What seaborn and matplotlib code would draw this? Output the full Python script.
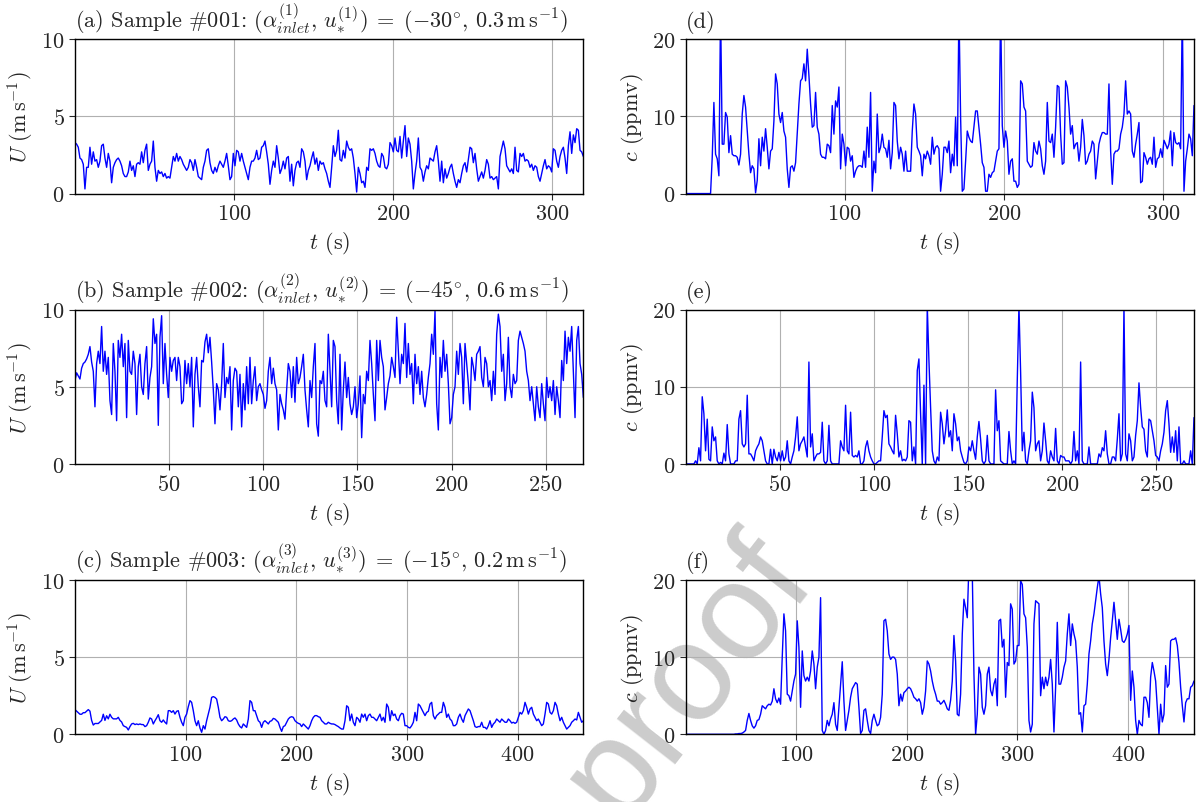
import numpy as np
import matplotlib
matplotlib.use("Agg")
import matplotlib.pyplot as plt
import seaborn as sns

t_end_a = 319.5   # samples #001
t_end_b = 270.0   # sample #002
t_end_c = 459.5   # sample #003

u_a = [3.3, 3.2, 3.0, 2.3, 2.2, 1.9, 0.3, 1.7, 1.7, 3.0, 1.9, 2.7, 2.1, 2.2, 1.7, 2.1, 3.1, 3.2, 2.3, 1.7,
       2.6, 2.1, 0.7, 1.7, 2.0, 2.2, 2.3, 2.1, 1.8, 1.3, 1.1, 1.1, 1.4, 2.1, 1.5, 1.8, 1.1, 1.9, 2.0, 1.9,
       2.7, 2.0, 2.8, 3.2, 1.5, 1.9, 2.1, 3.4, 1.7, 0.8, 1.5, 1.3, 1.4, 1.1, 1.3, 1.0, 1.1, 1.0, 1.7, 2.4,
       2.1, 2.6, 2.1, 2.4, 2.2, 1.9, 1.7, 1.5, 1.7, 2.2, 2.0, 1.5, 2.2, 1.7, 1.1, 1.0, 0.9, 1.7, 2.1, 2.8,
       2.9, 2.0, 1.5, 1.3, 1.7, 1.4, 1.8, 2.1, 1.9, 1.7, 2.1, 2.6, 1.8, 0.9, 1.1, 2.6, 1.8, 2.8, 2.7, 2.1,
       2.6, 2.1, 1.7, 1.3, 0.9, 1.7, 2.1, 2.1, 2.3, 2.8, 2.2, 2.3, 3.0, 3.1, 3.4, 2.7, 1.9, 0.6, 1.5, 2.1,
       1.7, 3.1, 2.3, 1.3, 1.6, 2.1, 1.6, 2.3, 2.4, 0.8, 1.9, 0.5, 1.5, 2.0, 2.1, 1.7, 2.9, 2.7, 2.1, 0.9,
       1.5, 1.8, 2.3, 2.7, 1.9, 2.3, 1.5, 2.1, 1.9, 2.0, 1.6, 1.3, 0.8,
       0.4, 1.7, 3.1, 2.4, 2.8, 4.1, 2.2, 2.1, 2.8, 2.3, 3.4, 3.0, 2.8, 2.9, 2.3, 1.3, 0.1, 1.7, 1.3, 0.7,
       0.8, 0.4, 1.7, 1.5, 2.9, 2.8, 2.9, 2.6, 2.1, 1.8, 1.7, 2.6, 2.4, 1.7, 1.6, 1.9, 3.3, 3.1, 2.7, 3.6,
       2.8, 2.7, 3.7, 2.3, 3.4, 4.4, 2.4, 3.6, 3.2, 2.1, 0.3, 1.3, 2.1, 3.6, 1.7, 1.5, 0.8, 1.4, 1.8, 1.6,
       2.3, 2.2, 2.1, 2.7, 3.1, 2.1, 0.8, 2.1, 0.7, 1.6, 1.0, 1.3, 1.7, 1.9, 1.3, 0.8, 0.4, 0.9, 0.7, 1.3,
       1.8, 2.0, 1.4, 2.2, 3.0, 2.9, 2.0, 2.6, 1.6, 0.8, 1.1, 1.4, 1.0, 1.5, 2.2, 1.9, 1.0, 1.1, 0.9, 1.0,
       1.1, 0.3, 2.4, 2.9, 3.4, 2.9, 1.8, 1.6, 1.4, 1.6, 1.3, 3.0, 1.5, 1.4, 2.6, 2.4, 2.6, 2.1, 2.2, 2.1,
       1.7, 1.9, 1.5, 1.8, 1.7, 1.1, 0.8, 1.3, 1.8, 2.2, 1.6, 1.8, 1.7, 1.4, 2.9, 2.8, 2.1, 1.7, 2.4, 2.8,
       3.0, 2.3, 1.3, 3.1, 4.0, 2.6, 3.8, 3.3, 4.2, 4.1, 2.8, 2.7, 2.4]

c_d = [0.0, 0.0, 0.0, 0.0, 0.0, 0.0, 0.0, 0.0, 0.0, 0.0, 0.0, 0.0, 0.0, 0.0, 0.0, 0.0,
       4.7, 11.8, 5.1, 4.5, 2.3, 24.0, 6.4, 6.4, 10.5, 9.9, 5.3, 7.5, 5.1, 4.9, 4.9, 4.7, 3.7, 5.1, 10.3,
       12.7, 11.2, 8.1, 5.1, 2.7, 3.6, 3.2, 0.1, 1.7, 7.1, 3.6, 7.3, 5.5, 8.4, 6.0, 3.2, 5.5, 5.8, 9.4,
       15.5, 14.2, 10.3, 9.2, 10.5, 8.1, 7.3, 3.2, 0.8, 3.4, 3.6, 2.9, 4.0, 7.7, 11.6, 14.6, 14.9, 16.8,
       14.6, 18.7, 15.3, 11.6, 8.6, 8.8, 13.1, 8.6, 7.7, 5.1, 4.7, 4.7, 4.5, 6.4, 6.2, 5.3, 11.4, 7.7,
       12.0, 11.2, 13.8, 3.2, 7.7, 6.4, 3.6, 6.0, 5.8, 4.2, 4.9, 2.1, 2.9, 3.4, 3.6, 3.6, 3.4, 5.5, 3.4,
       8.6, 4.7, 13.1, 0.3, 4.2, 2.7, 10.3, 5.3, 6.0, 7.7, 6.0, 5.8, 4.7, 6.9, 3.2, 5.3, 11.8, 11.4, 6.8,
       4.5, 6.0, 5.1, 2.9, 5.5, 2.9, 2.9, 2.9, 8.1, 11.6, 10.3, 6.0, 5.5, 4.9, 2.3, 5.1, 4.5, 5.5, 4.9,
       3.8, 7.3, 5.1, 6.0, 6.2, 5.8,
       0.3, 2.5, 6.0, 6.0, 5.3, 6.8, 2.7, 5.1, 3.6, 9.9, 3.6, 24.0, 9.9, 0.3, 0.6, 4.2, 8.1, 7.3, 6.8,
       6.6, 8.6, 10.7, 10.7, 8.6, 6.4, 4.0, 3.4, 0.3, 0.3, 2.5, 2.1, 2.7, 2.9, 4.2, 5.5, 5.8, 24.0, 8.8,
       6.0, 8.1, 6.8, 2.5, 4.2, 4.5, 1.6, 1.6, 0.8, 1.2, 14.6, 14.2, 11.2, 10.7, 4.2, 3.8, 3.4, 3.6, 6.6,
       5.5, 5.1, 6.8, 5.8, 3.6, 2.5, 4.2, 11.8, 6.8, 6.6, 7.7, 4.7, 8.6, 14.0, 13.8, 7.7, 3.8, 4.0, 14.6,
       13.8, 11.2, 7.7, 8.8, 5.8, 6.4, 6.6, 4.2, 6.0, 9.6, 7.5, 3.8, 4.2, 5.1, 5.5, 6.8, 6.4, 1.9, 4.2,
       6.4, 7.3, 7.9, 7.9, 7.7, 7.7, 14.2, 5.5, 1.2, 5.1, 5.5, 5.5, 5.8, 7.7, 8.6, 10.3, 14.6, 10.3, 10.7,
       10.3, 5.5, 4.7, 6.4, 7.7, 9.2, 1.4, 1.6, 5.3, 4.7, 3.8, 4.5, 4.7, 3.8, 7.3, 3.4, 4.5, 4.7, 5.8,
       4.7, 6.9, 6.4, 5.8, 6.4, 8.1, 3.6, 7.9, 6.6, 6.4, 6.6, 5.8, 24.0, 0.3, 4.2, 5.8, 7.7, 7.1, 4.9,
       11.4]

u_b = [5.4, 5.9, 5.7, 5.5, 6.2, 6.5, 6.6, 6.8, 7.1, 7.6, 6.6, 6.0, 3.7, 6.5, 7.3, 6.5, 8.9, 6.0, 7.3,
       5.8, 6.9, 4.1, 3.2, 7.8, 6.0, 2.8, 8.0, 6.9, 8.4, 6.3, 7.8, 3.0, 8.0, 6.0, 5.8, 7.3, 6.5, 3.2,
       6.3, 7.1, 5.0, 4.5, 6.5, 7.6, 4.2, 5.6, 6.3, 9.4, 7.8, 8.4, 2.5, 8.2, 9.6, 5.2, 7.8, 5.8, 4.3,
       6.9, 6.0, 6.7, 6.9, 5.4, 6.9, 6.3, 3.9, 4.1, 6.7, 5.2, 6.5, 5.0, 6.9, 2.4, 5.8, 6.9, 5.0, 3.7,
       6.7, 6.6, 7.9, 8.4, 7.2, 8.2, 6.6, 4.8, 2.6, 5.2, 4.8, 3.5, 5.2, 7.8, 4.3, 5.6, 5.2, 6.3, 2.2,
       5.4, 6.2, 6.0, 3.7, 5.8, 2.4, 5.2, 3.5, 6.3, 3.9, 6.9, 3.9, 5.4, 6.3, 4.1, 5.0, 5.2, 4.8, 4.5,
       3.6, 4.1, 6.0, 6.9, 5.2, 6.2, 5.2, 4.8, 2.2, 4.5, 3.9, 3.5, 2.9, 4.8, 6.5, 6.0, 4.3, 6.3, 4.0,
       6.9, 5.2, 5.6, 6.3, 7.1, 4.8, 3.5, 2.4, 5.4, 4.3, 6.3, 7.8, 2.6, 1.8, 5.4, 5.2, 6.0, 4.1, 3.7,
       8.4,
       6.0, 3.7, 8.0, 7.6, 4.1, 2.6, 7.1, 2.2, 4.8, 6.6, 4.3, 5.6, 3.9, 3.2, 3.7, 5.0, 3.0, 3.9, 5.7,
       1.7, 4.5, 3.9, 6.0, 5.4, 8.0, 6.5, 4.5, 2.8, 8.0, 5.4, 8.0, 6.9, 6.3, 3.5, 4.3, 5.2, 5.7, 6.9,
       6.3, 5.6, 9.5, 7.3, 5.2, 7.1, 6.5, 9.1, 5.6, 7.8, 5.8, 6.5, 3.9, 7.1, 5.2, 6.3, 4.5, 6.0, 4.3,
       3.7, 4.5, 5.6, 6.5, 8.4, 7.1, 9.9, 3.9, 2.2, 6.9, 5.6, 8.0, 6.0, 7.1, 5.2, 2.6, 3.0, 4.5, 5.0,
       7.3, 5.8, 7.8, 6.9, 3.9, 7.8, 6.5, 5.2, 3.5, 6.9, 6.3, 5.4, 7.1, 7.3, 7.6, 5.6, 5.0, 6.9, 6.5,
       5.0, 5.4, 4.1, 6.0, 4.5, 8.4, 9.7, 8.9, 6.0, 7.1, 4.1, 5.2, 8.2, 5.0, 4.3, 5.8, 5.2, 5.4, 8.0,
       8.6, 8.2, 7.8, 7.3, 6.0, 5.4, 4.1, 5.0, 3.9, 2.8, 5.0, 3.7, 3.0, 5.2, 3.9, 2.8, 5.6, 4.3, 5.0,
       4.1, 5.4, 3.2, 5.0, 4.1, 3.0, 6.7, 5.4, 8.6, 6.5, 8.2, 7.3, 8.9, 6.0, 3.0, 8.0, 8.9, 6.5, 5.8,
       4.3]

c_e = [0.0, 0.0, 0.0, 0.0, 0.0, 0.0, 0.4, 0.0, 2.1, 0.4, 8.7, 6.5, 1.7, 5.8, 0.6, 0.4, 4.8, 3.0, 3.5,
       0.4, 0.0, 0.2, 0.0, 1.4, 0.4, 5.1, 1.3, 0.0, 0.0, 0.0, 0.4, 0.4, 5.8, 6.9, 2.6, 2.2, 2.6, 8.9,
       1.3, 1.3, 0.9, 0.4, 1.7, 2.2, 2.6, 3.5, 3.0, 1.7, 0.4, 0.0, 0.0, 1.9, 0.0, 1.9, 0.9, 0.4, 1.5,
       0.4, 1.7, 0.4, 0.9, 3.0, 0.4, 0.0, 0.9, 1.7, 3.5, 6.1, 1.7, 2.6, 3.0, 3.5, 2.2, 0.9, 13.2, 2.2,
       3.9, 0.4, 0.9, 1.3, 1.3, 1.5, 5.4, 0.4, 0.0, 0.4, 5.0, 0.4, 0.0, 0.0, 0.0, 0.0, 0.0, 3.0, 2.2,
       1.7, 7.6, 1.7, 1.3, 6.7, 1.1, 0.9, 1.1, 0.9, 1.7, 0.0, 0.0, 0.4, 2.2, 3.0, 1.7, 0.9, 0.4, 0.0,
       0.0, 0.2, 0.4, 0.4, 3.5, 6.9, 6.0, 6.3, 2.6, 2.2, 1.7, 1.3, 6.3, 3.9, 0.9, 1.7, 0.4, 0.6, 0.4,
       0.9, 5.6, 5.4, 0.4, 2.2, 0.0, 12.1, 13.6, 6.5, 0.0, 10.2, 0.0, 20.5, 13.4, 7.3, 1.7, 0.4, 0.0,
       0.9, 0.4,
       6.7, 5.2, 2.6, 4.3, 7.0, 3.5, 4.3, 1.7, 6.5, 5.2, 3.0, 3.5, 1.7, 0.9, 0.2, 0.0, 0.4, 2.2, 1.7,
       3.0, 1.7, 0.6, 3.5, 5.5, 3.2, 0.4, 0.0, 0.4, 3.7, 0.4, 0.0, 0.0, 0.0, 9.6, 4.3, 5.6, 0.4, 0.2,
       0.0, 0.0, 0.0, 4.2, 1.7, 0.0, 0.4, 0.0, 10.9, 20.5, 11.9, 1.7, 4.1, 0.4, 0.0, 1.7, 3.0, 9.3,
       7.3, 1.7, 2.6, 3.0, 0.4, 1.7, 5.3, 3.0, 0.4, 0.0, 1.7, 0.9, 0.4, 4.6, 0.4, 0.0, 1.1, 0.9, 0.9,
       0.4, 0.4, 0.4, 0.0, 0.4, 4.2, 0.4, 1.7, 0.0, 13.2, 0.4, 0.0, 0.0, 0.0, 2.2, 0.0, 0.0, 0.0, 0.0,
       0.0, 1.3, 0.9, 2.1, 1.7, 4.3, 1.3, 0.0, 0.0, 0.9, 0.9, 0.4, 3.2, 6.5, 0.4, 1.3, 20.5, 1.3, 0.4,
       3.9, 3.0, 0.4, 0.9, 3.7, 5.6, 10.5, 7.3, 4.8, 4.5, 1.7, 0.9, 5.8, 5.6, 4.3, 3.0, 1.1, 0.9, 0.4,
       1.7, 2.6, 4.1, 6.9, 8.2, 5.2, 1.5, 3.5, 1.5, 4.3, 0.4, 4.8, 0.0, 0.0, 0.4, 0.0, 0.0, 0.0, 1.7,
       0.0, 6.0]

u_c = [1.6, 1.5, 1.4, 1.3, 1.3, 1.4, 1.4, 1.5, 1.6, 1.5, 0.9, 0.6, 0.7, 0.7, 0.7, 0.8, 0.9, 1.3, 0.9,
       1.2, 1.0, 1.3, 1.1, 1.0, 1.0, 1.0, 1.1, 0.9, 0.8, 0.56, 0.5, 0.45, 0.28, 0.5, 0.67, 0.71, 0.63,
       0.67, 0.63, 0.67, 0.63, 0.63, 0.5, 0.56, 0.78, 1.06, 0.99, 0.67, 0.88, 1.06, 1.27, 0.88, 0.78,
       0.93, 0.78, 0.67, 1.53, 1.53, 1.42, 1.53, 1.31, 1.49, 1.53, 1.1, 0.78, 0.56, 1.1, 1.31, 1.79,
       2.18, 2.07, 1.53, 0.88, 0.56, 0.88, 0.41, 0.13, 0.56, 0.34, 0.88, 1.31, 1.75, 2.39, 2.44, 2.39,
       2.28, 1.75, 1.1, 0.88, 0.99, 1.14, 1.1, 0.88, 0.84, 0.88, 0.99, 1.06, 0.93, 0.67, 0.5, 0.41,
       0.67, 0.56, 0.45, 0.99, 2.18, 2.07, 1.53, 1.53, 1.21, 0.88, 0.78, 0.45, 0.78, 0.88, 0.78, 0.67,
       0.84, 0.88, 1.03, 0.99, 0.88, 0.78, 0.45, 0.19, 0.5, 0.56, 0.78, 0.99, 1.1, 1.14, 1.1, 0.88,
       0.78, 0.71, 0.67, 0.5, 0.67, 0.56, 0.45, 0.34, 0.56, 0.88, 1.1, 1.21, 1.21, 1.14, 1.1, 0.88,
       0.78, 0.67, 0.67, 0.78,
       0.71, 0.67, 0.67, 0.63, 0.56, 0.5, 0.41, 0.34, 0.34, 0.88, 1.85, 1.75, 0.88, 1.31, 0.78, 0.56,
       1.1, 0.99, 0.78, 1.31, 1.1, 1.31, 0.88, 1.21, 1.31, 1.1, 1.1, 0.99, 0.88, 1.1, 1.31, 0.88, 1.1,
       0.78, 1.96, 1.75, 0.88, 1.53, 1.21, 1.31, 0.99, 0.88, 1.21, 1.36, 1.31, 0.56, 0.56, 0.45, 0.41,
       0.56, 0.78, 1.42, 0.88, 1.96, 1.85, 1.64, 1.42, 1.21, 1.42, 1.49, 1.96, 2.07, 1.21, 0.99, 1.21,
       1.31, 1.42, 1.42, 2.07, 1.75, 1.1, 1.31, 0.99, 0.88, 0.56, 0.56, 0.67, 1.1, 1.31, 0.99, 0.78,
       1.21, 1.42, 1.64, 1.53, 1.21, 0.88, 0.5, 0.45, 0.5, 0.5, 0.78, 0.45, 0.45, 0.34, 0.56, 0.88,
       0.45, 0.67, 0.78, 0.99, 0.88, 0.78, 0.99, 0.88, 0.78, 0.78, 0.99, 0.88, 0.73, 0.78, 0.71, 0.78,
       1.1, 1.42, 1.31, 1.53, 2.07, 1.75, 1.31, 1.64, 1.75, 1.31, 1.1, 0.88, 0.99, 0.78, 0.56, 0.67,
       1.31, 2.07, 1.96, 1.42, 1.31, 1.53, 2.07, 1.85, 1.31, 0.88, 1.1, 0.78, 0.56, 0.34, 0.45, 0.56,
       0.78, 0.88, 0.99, 0.93, 1.42, 1.1, 0.78, 0.88]

c_f = [0.0, 0.0, 0.0, 0.0, 0.0, 0.0, 0.0, 0.0, 0.0, 0.0, 0.0, 0.0, 0.0, 0.0, 0.0, 0.0, 0.0, 0.0, 0.0,
       0.0, 0.0, 0.0, 0.0, 0.0, 0.0, 0.0, 0.0, 0.0, 0.0, 0.0, 0.05, 0.05, 0.1, 0.1, 0.15, 0.3, 0.5,
       1.8, 2.7, 1.8, 1.1, 0.8, 1.1, 1.8, 1.9, 2.6, 3.7, 3.5, 3.3, 3.7, 3.9, 3.8, 4.3, 5.9, 4.6, 4.1,
       4.7, 3.9, 10.0, 15.6, 13.4, 5.2, 5.0, 4.3, 5.6, 6.9, 7.8, 14.7, 11.3, 3.5, 10.8, 7.6, 6.9, 7.4,
       6.9, 8.2, 10.8, 9.1, 5.9, 8.7, 10.0, 17.7, 0.5, 0.0, 0.5, 1.8, 1.1, 2.0, 2.6, 4.1, 1.3, 0.5,
       3.5, 6.5, 9.4, 4.3, 0.5, 1.8, 3.1, 4.8, 5.9, 6.3, 6.7, 6.5, 3.5, 0.1, 0.5, 3.1, 3.3, 1.8, 0.5,
       0.1, 1.8, 2.6, 1.8, 1.1, 1.3, 2.2, 5.2, 14.7, 14.9, 13.4, 10.4, 9.7, 10.0, 10.0, 9.7, 7.8, 3.7,
       5.2, 4.3, 5.4, 5.6, 5.9, 6.1, 5.9, 5.4, 4.8, 4.6, 4.3, 4.6, 4.1, 2.6, 3.5, 5.6, 9.5, 9.1, 8.2,
       6.9, 5.9, 5.2, 4.3, 4.3,
       3.9, 4.1, 4.4, 3.9, 3.3, 3.1, 4.4, 6.9, 12.8, 9.5, 2.6, 2.4, 5.2, 13.0, 17.5, 16.4, 15.1, 22.0,
       23.0, 21.0, 7.8, 0.0, 2.6, 8.7, 7.8, 3.5, 2.6, 3.7, 7.8, 8.7, 5.7, 5.0, 6.5, 7.2, 3.7, 14.7,
       14.9, 11.3, 12.3, 4.8, 9.3, 8.9, 16.9, 16.2, 9.1, 9.5, 11.5, 11.5, 19.9, 19.4, 15.6, 15.1, 11.3,
       1.8, 0.3, 1.3, 14.3, 17.3, 17.1, 16.9, 5.0, 7.4, 5.9, 7.4, 6.3, 7.4, 9.7, 6.5, 0.3, 6.1, 14.5,
       6.5, 6.5, 7.4, 8.7, 9.5, 13.0, 15.6, 11.5, 14.3, 13.0, 12.1, 8.7, 2.6, 2.8, 0.3, 3.7, 3.9, 6.5,
       10.4, 12.1, 14.3, 15.6, 17.3, 19.0, 20.5, 18.2, 16.4, 12.1, 9.1, 7.6, 9.7, 12.5, 14.7, 17.1,
       14.7, 12.3, 14.9, 13.6, 12.1, 11.9, 12.3, 13.0, 14.1, 4.4, 8.2, 6.1, 1.8, 0.0, 1.8, 1.3, 1.1,
       4.8, 4.8, 4.1, 2.2, 7.4, 9.3, 8.2, 6.9, 3.5, 0.0, 3.9, 1.6, 2.6, 8.9, 6.1, 6.5, 12.1, 12.3, 12.3,
       12.5, 11.5, 9.3, 6.1, 3.7, 1.6, 4.1, 4.6, 4.6, 6.1, 6.3, 6.9]

titles = [
    r"(a) Sample #001: $(\alpha^{(1)}_{inlet},\, u^{(1)}_{*})\; =\; (-30^{\circ},\, 0.3\,\mathrm{m\,s^{-1}})$",
    r"(d)",
    r"(b) Sample #002: $(\alpha^{(2)}_{inlet},\, u^{(2)}_{*})\; =\; (-45^{\circ},\, 0.6\,\mathrm{m\,s^{-1}})$",
    r"(e)",
    r"(c) Sample #003: $(\alpha^{(3)}_{inlet},\, u^{(3)}_{*})\; =\; (-15^{\circ},\, 0.2\,\mathrm{m\,s^{-1}})$",
    r"(f)",
]
x_ticks_a = [100, 200, 300]
x_ticks_b = [50, 100, 150, 200, 250]
x_ticks_c = [100, 200, 300, 400]

# ---- style ----
sns.set_style("ticks", {"axes.grid": True, "grid.color": "#b0b0b0",
                        "axes.edgecolor": "black", "xtick.direction": "out",
                        "ytick.direction": "out"})
plt.rcParams["font.family"] = "serif"
plt.rcParams["font.serif"] = ["cmr10"]
plt.rcParams["mathtext.fontset"] = "cm"
plt.rcParams["axes.formatter.use_mathtext"] = True
plt.rcParams["axes.unicode_minus"] = False
fs = 16

fig, axes = plt.subplots(3, 2, figsize=(12.03, 8.03), dpi=100)
fig.subplots_adjust(left=0.0623, right=0.9925, bottom=0.0843, top=0.950,
                    wspace=0.201, hspace=0.751)

# journal watermark, kept behind the axes
fig.text(0.572, 0.155, "proof", fontsize=100, color="#cccccc",
         family="Liberation Sans", rotation=52, ha="center", va="center",
         rotation_mode="anchor", zorder=-1)

panels = [
    (u_a, t_end_a, 10, [0, 5, 10], x_ticks_a, r"$U\ (\mathrm{m\,s^{-1}})$"),
    (c_d, t_end_a, 20, [0, 10, 20], x_ticks_a, r"$c$ (ppmv)"),
    (u_b, t_end_b, 10, [0, 5, 10], x_ticks_b, r"$U\ (\mathrm{m\,s^{-1}})$"),
    (c_e, t_end_b, 20, [0, 10, 20], x_ticks_b, r"$c$ (ppmv)"),
    (u_c, t_end_c, 10, [0, 5, 10], x_ticks_c, r"$U\ (\mathrm{m\,s^{-1}})$"),
    (c_f, t_end_c, 20, [0, 10, 20], x_ticks_c, r"$c$ (ppmv)"),
]

for ax, (vals, t_end, ymax, yt, xt, ylab), title in zip(axes.flat, panels, titles):
    t = np.linspace(0, t_end, len(vals))
    sns.lineplot(x=t, y=vals, ax=ax, color="blue", lw=1.0, estimator=None)
    ax.patch.set_alpha(0)
    ax.set_xlim(0, t_end)
    ax.set_ylim(0, ymax)
    ax.set_xticks(xt)
    ax.set_yticks(yt)
    ax.tick_params(labelsize=fs, length=4, width=0.8)
    ax.set_xlabel(r"$t$ (s)", fontsize=fs)
    ax.set_ylabel(ylab, fontsize=fs)
    ax.set_title(title, loc="left", fontsize=fs, pad=9)
    for s in ax.spines.values():
        s.set_color("black")
        s.set_linewidth(1.0)

fig.savefig("out.png", dpi=100)
